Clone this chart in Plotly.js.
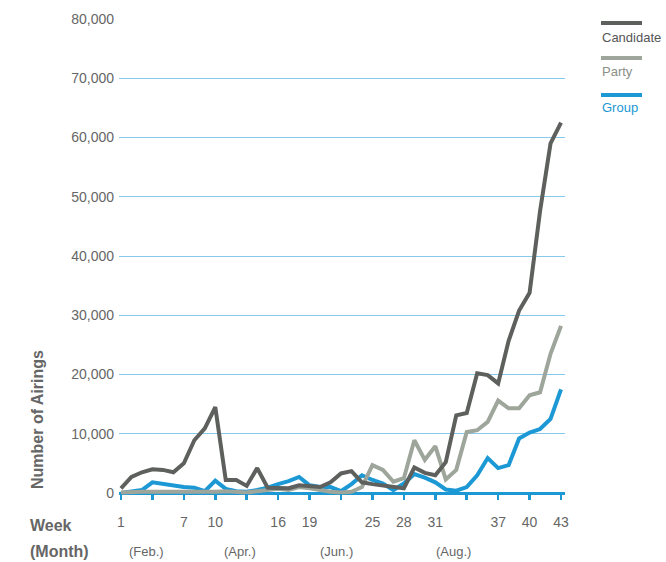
<!DOCTYPE html>
<html>
<head>
<meta charset="utf-8">
<script src="https://cdn.plot.ly/plotly-3.0.1.min.js"></script>
<style>
  html, body { margin: 0; padding: 0; background: #ffffff; }
  #chart { width: 666px; height: 562px; }
</style>
</head>
<body>
<div id="chart"></div>
<script>
// ---- data ----
const weeks = [1,2,3,4,5,6,7,8,9,10,11,12,13,14,15,16,17,18,19,20,21,22,23,24,25,26,27,28,29,30,31,32,33,34,35,36,37,38,39,40,41,42,43];

const candidate = [800,2700,3500,4000,3900,3500,5000,8900,10900,14500,
                   2200,2200,1200,4200,900,900,800,1300,1100,1000,
                   1800,3300,3700,1800,1500,1300,1000,800,4300,3400,
                   3000,5200,13100,13500,20200,19900,18500,25700,30800,33800,
                   47600,59000,62500];

const party = [100,200,200,200,200,200,200,100,100,200,
               300,200,100,300,500,700,500,1000,800,500,
               200,100,200,1000,4700,3900,1900,2500,8900,5600,
               7900,2300,3900,10300,10600,12000,15600,14300,14300,16500,
               17000,23500,28200];

const group = [0,200,500,1800,1500,1200,1000,900,300,2100,
               700,300,200,500,900,1500,2000,2700,1300,1000,
               1000,300,1500,3000,2200,1600,500,1600,3200,2600,
               1800,600,400,1000,3000,5900,4200,4700,9200,10200,
               10800,12500,17500];

const seriesNames = ["Candidate", "Party", "Group"];
const yTicks = [0,10000,20000,30000,40000,50000,60000,70000,80000];
const weekTicks = [1,4,7,10,13,16,19,22,25,28,31,34,37,40,43];
const weekTickText = ["1","","7","10","","16","19","","25","28","31","","37","40","43"];
const monthLabels = ["(Feb.)","(Apr.)","(Jun.)","(Aug.)"];
const monthWeeks = [3.4, 12.4, 21.6, 32.7];

// ---- styling ----
const colCandidate = "#5e605d";
const colParty = "#9ea59b";
const colGroup = "#1c98d4";
const colGrid = "#86c9ea";
const font = "Liberation Sans, Arial, Helvetica, sans-serif";

const traces = [
  { x: weeks, y: group, name: seriesNames[2], mode: "lines",
    line: { color: colGroup, width: 4, shape: "linear" } },
  { x: weeks, y: party, name: seriesNames[1], mode: "lines",
    line: { color: colParty, width: 4 } },
  { x: weeks, y: candidate, name: seriesNames[0], mode: "lines",
    line: { color: colCandidate, width: 4 } }
];

// custom legend (line above text)
const legendCols = [colCandidate, colParty, colGroup];
const legendTextCols = ["#555555", "#8a8f88", colGroup];
const legendLineY = [23, 58, 95];
const legendTextY = [37, 72, 108];
const H = 562, T = 19, B = 62, PH = H - T - B;
function py(pix) { return (H - B - pix) / PH; }
const L = 119, R = 101, PW = 666 - L - R;
function px(pix) { return (pix - L) / PW; }

const shapes = [];
const annotations = [];
for (let i = 0; i < 3; i++) {
  shapes.push({ type: "line", xref: "paper", yref: "paper",
    x0: px(601), x1: px(642), y0: py(legendLineY[i]), y1: py(legendLineY[i]),
    line: { color: legendCols[i], width: 4 } });
  annotations.push({ xref: "paper", yref: "paper", x: px(600), y: py(legendTextY[i]),
    xanchor: "left", yanchor: "middle", showarrow: false, text: seriesNames[i],
    font: { family: font, size: 13, color: legendTextCols[i] } });
}
// month labels
for (let i = 0; i < monthLabels.length; i++) {
  annotations.push({ xref: "x", yref: "paper", x: monthWeeks[i], y: py(551),
    xanchor: "center", yanchor: "middle", showarrow: false, text: monthLabels[i],
    font: { family: font, size: 13, color: "#666666" } });
}
annotations.push({ xref: "paper", yref: "paper", x: px(28), y: py(525),
  xanchor: "left", yanchor: "middle", showarrow: false, text: "<b>Week</b>",
  font: { family: font, size: 16, color: "#666666" } });
annotations.push({ xref: "paper", yref: "paper", x: px(28), y: py(551),
  xanchor: "left", yanchor: "middle", showarrow: false, text: "<b>(Month)</b>",
  font: { family: font, size: 16, color: "#666666" } });
annotations.push({ xref: "paper", yref: "paper", x: px(37), y: py(420),
  xanchor: "center", yanchor: "middle", showarrow: false, textangle: -90,
  text: "<b>Number of Airings</b>",
  font: { family: font, size: 16, color: "#666666" } });

const layout = {
  width: 666, height: 562,
  margin: { l: L, r: R, t: T, b: B, pad: 0 },
  paper_bgcolor: "#ffffff", plot_bgcolor: "#ffffff",
  showlegend: false,
  font: { family: font, color: "#666666" },
  xaxis: {
    range: [0.81, 43.38], showgrid: false, zeroline: false, showline: false,
    tickmode: "array", tickvals: weekTicks, ticktext: weekTickText,
    ticks: "inside", ticklen: 6, tickwidth: 2.5, tickcolor: colGroup,
    ticklabelstandoff: 12,
    tickfont: { family: font, size: 14, color: "#666666" }
  },
  yaxis: {
    range: [-1180, 80000], tickmode: "array", tickvals: yTicks,
    tickformat: ",d", showgrid: true, gridcolor: colGrid, gridwidth: 1,
    zeroline: true, zerolinecolor: colGroup, zerolinewidth: 3,
    showline: false, ticks: "", ticklabelstandoff: 4,
    tickfont: { family: font, size: 14, color: "#666666" }
  },
  shapes: shapes,
  annotations: annotations
};

Plotly.newPlot("chart", traces, layout, { staticPlot: true, displayModeBar: false });
</script>
</body>
</html>
